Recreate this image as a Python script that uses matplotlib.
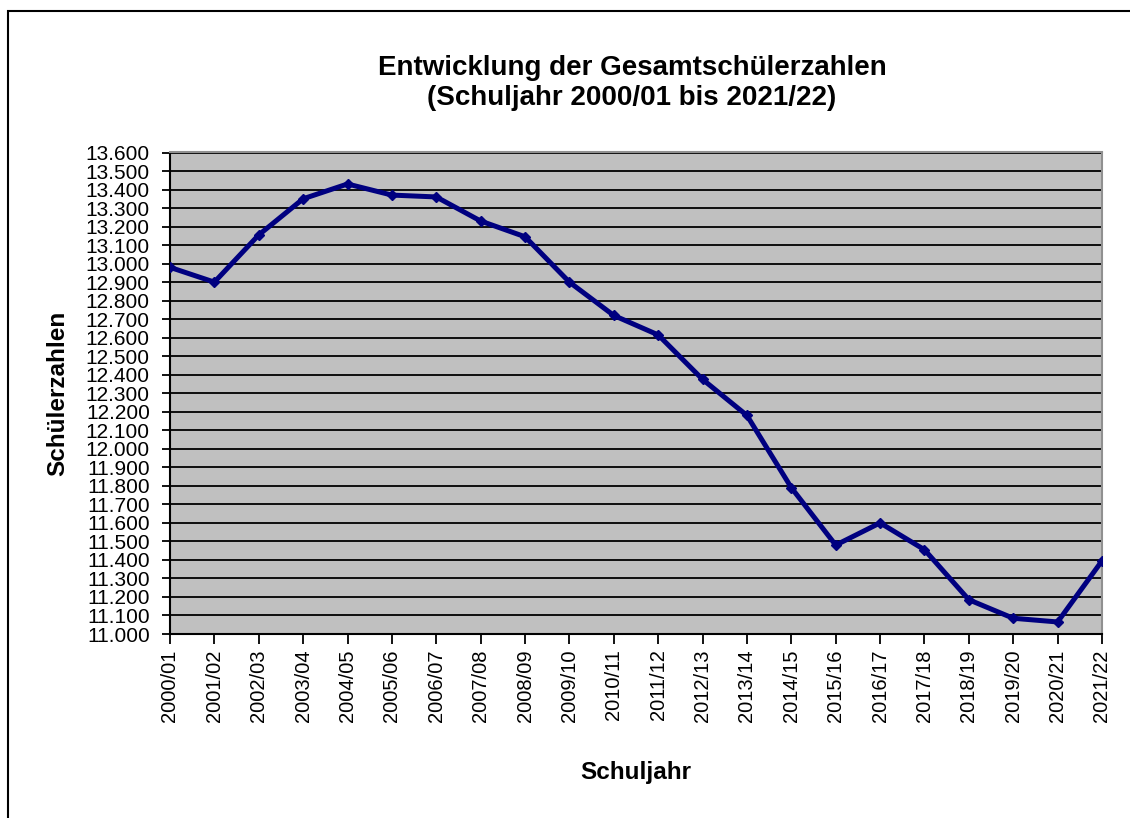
import matplotlib
matplotlib.use("Agg")
import matplotlib.pyplot as plt
from matplotlib.patches import Rectangle
from matplotlib.ticker import FuncFormatter, MultipleLocator

# School years and total pupil counts
schuljahre = ["2000/01", "2001/02", "2002/03", "2003/04", "2004/05", "2005/06",
              "2006/07", "2007/08", "2008/09", "2009/10", "2010/11", "2011/12",
              "2012/13", "2013/14", "2014/15", "2015/16", "2016/17", "2017/18",
              "2018/19", "2019/20", "2020/21", "2021/22"]
schueler = [12980, 12900, 13155, 13350, 13430, 13370,
            13360, 13230, 13145, 12900, 12720, 12615,
            12375, 12180, 11790, 11480, 11600, 11455,
            11185, 11085, 11065, 11395]

y_min, y_max, y_step = 11000, 13600, 100

plt.rcParams["font.family"] = ["Liberation Sans", "DejaVu Sans"]

fig = plt.figure(figsize=(11.30, 8.18), dpi=100)
fig.patch.set_facecolor("white")

# chart frame
fig.add_artist(Rectangle((8 / 1130, -0.01), 1.2, 1 - 11 / 818 + 0.01,
                         transform=fig.transFigure, fill=False,
                         edgecolor="black", linewidth=1.5))

ax = fig.add_axes([170 / 1130, 1 - 634 / 818, (1102 - 170) / 1130, (634 - 152.5) / 818])
ax.set_facecolor("#C0C0C0")

x = list(range(len(schuljahre)))
ax.plot(x, schueler, color="#000080", linewidth=3.6, marker="D",
        markersize=5.5, markerfacecolor="#000080", markeredgecolor="#000080",
        solid_joinstyle="round", zorder=3)

ax.set_xlim(0, len(schuljahre) - 1)
ax.set_ylim(y_min, y_max)
ax.yaxis.set_major_locator(MultipleLocator(y_step))
ax.yaxis.set_major_formatter(FuncFormatter(lambda v, p: f"{int(v):,}".replace(",", ".")))
ax.set_xticks(x)
ax.set_xticklabels(schuljahre, rotation=90)

ax.grid(axis="y", color="black", linewidth=1.3, zorder=1)
ax.set_axisbelow(True)

for side in ("top", "right"):
    ax.spines[side].set_color("#909090")
    ax.spines[side].set_linewidth(1.5)
for side in ("left", "bottom"):
    ax.spines[side].set_color("black")
    ax.spines[side].set_linewidth(1.5)

ax.tick_params(axis="y", direction="out", length=6, width=1.3, labelsize=15, pad=8.5)
ax.tick_params(axis="x", direction="out", length=7, width=1.3, labelsize=14.5, pad=4)

ax.set_ylabel("Schülerzahlen", fontsize=17.5, fontweight="bold", labelpad=12)
ax.set_xlabel("Schuljahr", fontsize=17.5, fontweight="bold", labelpad=28)

fig.text(632 / 1130, 1 - 68 / 818, "Entwicklung der Gesamtschülerzahlen",
         ha="center", va="center", fontsize=20, fontweight="bold")
fig.text(632 / 1130, 1 - 98 / 818, "(Schuljahr 2000/01 bis 2021/22)",
         ha="center", va="center", fontsize=20, fontweight="bold")

fig.savefig("out.png", dpi=100, facecolor="white")
